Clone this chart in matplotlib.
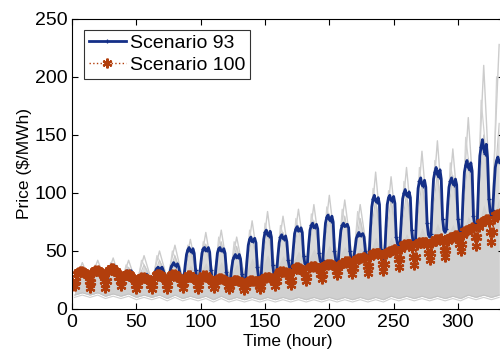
import numpy as np
import matplotlib
matplotlib.use("Agg")
import matplotlib.pyplot as plt

plt.rcParams['font.family'] = ['Liberation Sans', 'DejaVu Sans']

# ---- data ----
hours = np.arange(0, 336)
# Scenario 93, hourly (12 values per row = one 12-hour cycle)
scenario93 = [
    21, 22, 22, 23, 27, 30, 32, 33, 31, 32, 33, 31,
    30, 28, 27, 28, 31, 33, 34, 35, 33, 34, 35, 33,
    30, 27, 26, 27, 31, 35, 37, 38, 36, 35, 37, 34,
    29, 25, 24, 25, 28, 31, 32, 33, 31, 32, 33, 31,
    27, 23, 22, 23, 26, 28, 29, 30, 29, 28, 30, 28,
    26, 24, 24, 25, 29, 33, 35, 36, 34, 35, 36, 33,
    29, 26, 25, 26, 31, 36, 38, 40, 38, 37, 39, 36,
    30, 26, 25, 27, 38, 47, 51, 53, 50, 49, 52, 48,
    34, 26, 24, 26, 38, 48, 52, 53, 50, 51, 53, 49,
    34, 25, 23, 25, 37, 48, 52, 53, 50, 50, 52, 48,
    32, 24, 23, 24, 34, 42, 45, 47, 44, 45, 47, 43,
    30, 25, 25, 27, 42, 55, 60, 62, 58, 59, 61, 57,
    36, 27, 26, 28, 46, 60, 66, 68, 64, 63, 67, 62,
    38, 29, 28, 30, 45, 57, 62, 64, 61, 60, 63, 58,
    42, 36, 35, 37, 52, 65, 69, 71, 67, 68, 70, 66,
    46, 39, 38, 40, 56, 68, 72, 74, 70, 71, 73, 69,
    48, 41, 40, 42, 60, 74, 79, 81, 77, 76, 80, 75,
    50, 42, 40, 42, 56, 68, 72, 74, 71, 72, 73, 70,
    50, 43, 42, 44, 52, 61, 64, 66, 63, 64, 65, 62,
    50, 46, 45, 47, 70, 88, 95, 98, 93, 92, 96, 90,
    52, 44, 42, 45, 70, 90, 96, 98, 94, 93, 97, 91,
    62, 56, 55, 58, 78, 95, 100, 103, 98, 97, 101, 96,
    68, 58, 57, 60, 85, 104, 110, 113, 107, 106, 111, 105,
    74, 64, 62, 65, 92, 112, 118, 122, 116, 114, 120, 112,
    78, 68, 66, 69, 90, 105, 110, 113, 108, 107, 112, 107,
    78, 68, 66, 70, 98, 118, 124, 128, 122, 120, 126, 119,
    80, 72, 70, 74, 108, 132, 140, 146, 138, 134, 142, 130,
    95, 84, 80, 85, 105, 122, 128, 131, 127, 126, 130, 126,
]
# Scenario 100, hourly
scenario100 = [
    20, 21, 20, 24, 30, 32, 33, 32, 33, 32, 31, 30,
    29, 24, 18, 23, 31, 33, 34, 33, 34, 33, 32, 31,
    29, 24, 18, 24, 32, 34, 35, 34, 35, 34, 33, 31,
    28, 24, 20, 24, 28, 29, 30, 29, 30, 29, 28, 27,
    26, 21, 17, 21, 26, 27, 28, 27, 28, 27, 26, 25,
    25, 21, 17, 21, 27, 29, 30, 29, 30, 29, 28, 27,
    26, 21, 17, 21, 27, 29, 30, 29, 30, 29, 28, 27,
    26, 22, 18, 22, 27, 28, 29, 28, 29, 28, 27, 26,
    25, 21, 17, 21, 27, 28, 29, 28, 29, 28, 27, 26,
    25, 21, 18, 21, 25, 26, 27, 26, 27, 26, 25, 25,
    24, 20, 17, 20, 23, 24, 25, 25, 25, 24, 24, 23,
    23, 19, 16, 19, 23, 24, 25, 24, 25, 24, 24, 24,
    24, 20, 17, 20, 26, 27, 28, 27, 28, 28, 27, 27,
    27, 23, 20, 24, 30, 32, 33, 32, 33, 32, 32, 31,
    31, 25, 21, 25, 33, 35, 36, 35, 36, 35, 34, 33,
    33, 28, 24, 28, 35, 36, 37, 36, 37, 37, 36, 35,
    35, 30, 26, 30, 37, 38, 39, 38, 39, 39, 38, 38,
    37, 33, 29, 33, 38, 39, 40, 40, 41, 40, 41, 41,
    40, 35, 30, 35, 41, 43, 44, 43, 44, 44, 45, 45,
    44, 37, 31, 37, 45, 47, 48, 47, 48, 48, 48, 48,
    46, 39, 33, 39, 47, 49, 50, 49, 50, 51, 52, 52,
    50, 43, 36, 43, 52, 55, 56, 55, 56, 56, 56, 56,
    53, 45, 38, 45, 55, 57, 58, 57, 58, 58, 58, 58,
    55, 48, 42, 48, 57, 59, 60, 59, 60, 60, 60, 61,
    58, 51, 45, 51, 59, 61, 62, 61, 62, 63, 64, 64,
    62, 56, 50, 56, 64, 67, 68, 67, 68, 69, 70, 71,
    70, 62, 54, 62, 71, 74, 75, 74, 76, 77, 78, 78,
    75, 66, 58, 66, 78, 81, 82, 81, 82, 83, 83, 84,
]

# other scenarios (gray band), one value per 12-hour cycle
cycle_start = np.arange(0, 336, 12)
gray_spike = [40, 42, 44, 42, 46, 50, 55, 60, 66, 68, 62, 76, 84, 80,
              86, 90, 98, 94, 90, 118, 114, 122, 136, 145, 138, 165, 210, 228]
gray_spike2 = [36, 38, 40, 38, 42, 46, 50, 55, 58, 62, 58, 68, 74, 72,
               78, 82, 88, 86, 84, 104, 102, 110, 122, 128, 126, 148, 180, 200]
gray_top_peak = [36, 37, 38, 36, 38, 42, 46, 52, 56, 58, 54, 62, 68, 66,
                 72, 76, 82, 80, 78, 95, 95, 100, 110, 118, 115, 130, 150, 160]
gray_mid_peak = [30, 31, 31, 30, 31, 33, 35, 38, 40, 41, 39, 44, 47, 46,
                 50, 52, 55, 54, 53, 62, 62, 65, 70, 74, 73, 80, 90, 96]
gray_top_trough = [22, 24, 24, 22, 22, 24, 26, 26, 27, 27, 26, 28, 30, 32,
                   36, 38, 40, 42, 42, 44, 45, 50, 52, 56, 58, 60, 66, 72]
gray_bot_peak = [14, 14, 13, 13, 12, 12, 12, 11, 11, 11, 10, 10, 10, 10,
                 10, 10, 10, 10, 10, 10, 11, 11, 11, 11, 11, 12, 12, 12]
gray_bot_trough = [12, 12, 11, 11, 10, 10, 9, 9, 9, 8, 8, 8, 8, 8,
                   8, 8, 8, 8, 8, 8, 8, 9, 9, 9, 9, 9, 10, 10]

xticks = [0, 50, 100, 150, 200, 250, 300]
yticks = [0, 50, 100, 150, 200, 250]

# ---- figure ----
fig = plt.figure(figsize=(5.0, 3.51), dpi=100)
ax = fig.add_axes([0.144, 0.1197, 0.8646, 0.8262])

t_g = np.column_stack([cycle_start + 2, cycle_start + 8]).ravel()
t_g2 = np.column_stack([cycle_start + 3, cycle_start + 6]).ravel()
top = np.column_stack([gray_top_trough, gray_top_peak]).ravel()
mid = np.column_stack([gray_top_trough, gray_mid_peak]).ravel()
spk = np.column_stack([gray_top_trough, gray_spike]).ravel()
spk2 = np.column_stack([gray_top_trough, gray_spike2]).ravel()
bot = np.column_stack([gray_bot_trough, gray_bot_peak]).ravel()
ax.fill_between(t_g, bot, top, color='#dadada', lw=0)
ax.fill_between(t_g, bot, mid, color='#d0d0d0', lw=0)
ax.plot(t_g, spk, color='#cccccc', lw=1.0)
ax.plot(t_g2, spk2, color='#d2d2d2', lw=0.9)
ax.plot(t_g, top, color='#c8c8c8', lw=0.8)
ax.plot(t_g, bot, color='#c4c4c4', lw=0.8)
ax.plot(t_g, bot - 2, color='#d0d0d0', lw=0.8)

blue = '#142f87'
brown = '#b23e0c'
ax.plot(hours, scenario93, color=blue, lw=2.0, marker='+', ms=3.5,
        mew=0.9, markevery=3, label='Scenario 93')
ax.plot(hours, scenario100, color=brown, lw=1.0, ls=':', marker=(6, 2, 0),
        ms=7, mew=1.6, label='Scenario 100')

ax.set_xlim(0, 336)
ax.set_ylim(0, 250)
ax.set_xticks(xticks)
ax.set_yticks(yticks)
ax.tick_params(direction='in', top=True, right=True, labelsize=14,
               length=4, width=0.8)
for s in ax.spines.values():
    s.set_linewidth(0.8)
ax.set_xlabel('Time (hour)', fontsize=12.5, labelpad=2)
ax.set_ylabel('Price ($/MWh)', fontsize=12.5, labelpad=2)

leg = ax.legend(loc='upper left', bbox_to_anchor=(0.028, 0.963),
                fontsize=14, frameon=True, fancybox=False, numpoints=1,
                handlelength=1.9, handletextpad=0.2, borderpad=0.25,
                labelspacing=0.2, borderaxespad=0, markerscale=1.0)
leg.get_frame().set_edgecolor('black')
leg.get_frame().set_linewidth(0.8)

fig.savefig('out.png', dpi=100)
